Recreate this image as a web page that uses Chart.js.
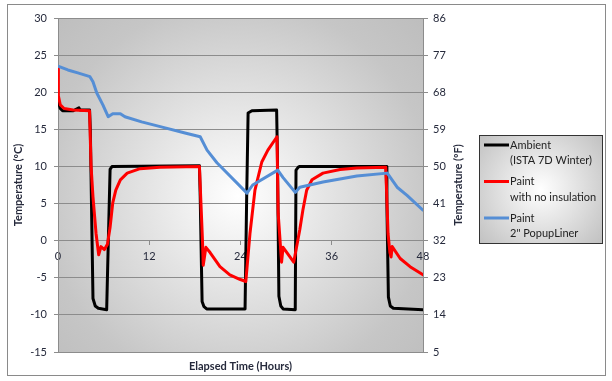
<!DOCTYPE html>
<html>
<head>
<meta charset="utf-8">
<script src="https://cdn.jsdelivr.net/npm/chart.js@4"></script>
<style>
html, body { margin: 0; padding: 0; background: #fff; }
</style>
</head>
<body>
<canvas id="myChart" width="612" height="381"></canvas>
<script>
// readings, hours vs degrees C
const ambientHours = [0, 0.3, 0.6, 2.0, 2.75, 2.9, 4.15, 4.25, 4.6, 4.9, 5.3, 6.4, 6.5, 6.85, 7.1, 18.6, 18.7, 18.95, 19.2, 19.55, 24.6, 24.8, 25.0, 25.5, 28.75, 28.85, 29.05, 29.3, 29.6, 31.2, 31.3, 31.6, 31.8, 43.15, 43.25, 43.45, 43.7, 44.1, 48];
const ambientTemp = [18.9, 17.8, 17.5, 17.5, 17.9, 17.6, 17.6, 15.0, -7.8, -8.8, -9.1, -9.3, -5.0, 9.6, 10.0, 10.1, 6.0, -8.2, -8.9, -9.2, -9.2, 5.0, 17.2, 17.5, 17.6, 12.0, -7.5, -8.8, -9.2, -9.3, 9.5, 9.9, 10.0, 10.0, 5.0, -7.6, -8.8, -9.1, -9.3];

const paintHours = [0, 0.05, 0.3, 0.8, 2.0, 4.15, 4.35, 4.6, 5.0, 5.35, 5.65, 6.1, 6.5, 6.85, 7.2, 7.6, 8.2, 9.1, 10.8, 13.4, 18.6, 18.8, 19.0, 19.1, 19.45, 20.0, 21.3, 22.6, 23.9, 24.7, 25.25, 25.9, 26.8, 27.6, 28.8, 28.95, 29.4, 29.6, 30.1, 31.0, 31.8, 32.2, 32.7, 33.4, 34.85, 37.1, 39.3, 43.1, 43.4, 43.65, 43.8, 43.95, 45.0, 46.3, 48];
const paintTemp = [23.3, 19.5, 18.3, 17.8, 17.6, 17.5, 10.0, 5.9, 1.0, -1.9, -0.8, -1.2, -0.5, 1.8, 5.1, 6.8, 8.2, 9.1, 9.7, 9.9, 10.0, 5.0, 0.0, -3.3, -0.9, -1.6, -3.5, -4.6, -5.2, -5.5, 1.0, 6.8, 10.6, 12.2, 14.0, 3.7, -2.9, -0.9, -1.6, -2.9, 1.5, 4.1, 6.8, 8.2, 9.1, 9.6, 9.8, 9.9, 1.0, -1.6, -2.2, -0.8, -2.4, -3.5, -4.6];

const linerHours = [0, 1.3, 2.6, 4.2, 4.6, 5.1, 5.9, 6.6, 7.2, 8.2, 8.8, 11.0, 13.7, 16.7, 18.7, 19.6, 20.9, 24.85, 25.6, 28.9, 29.6, 31.2, 31.8, 34.85, 39.3, 43.3, 44.6, 45.9, 48];
const linerTemp = [23.5, 23.0, 22.6, 22.1, 21.4, 19.9, 18.3, 16.7, 17.1, 17.1, 16.7, 16.0, 15.3, 14.5, 14.0, 12.2, 10.5, 6.4, 7.5, 9.5, 8.5, 6.5, 7.2, 7.9, 8.7, 9.1, 7.2, 6.1, 4.1];

const legendLines = [
    ["Ambient", "(ISTA 7D Winter)"],
    ["Paint", "with no insulation"],
    ["Paint", "2\" PopupLiner"]
];

const FONT = "Lato, 'Open Sans', sans-serif";
const TEXT = "#262a3c";
const GRID = "#8c8c8c";

const pairs = (xs, ys) => xs.map((x, i) => ({ x: x, y: ys[i] }));

const backgroundPlugin = {
    id: "background",
    beforeDraw(chart) {
        const c = chart.ctx;
        const a = chart.chartArea;
        c.save();
        c.fillStyle = "#ffffff";
        c.fillRect(0, 0, chart.width, chart.height);

        const g = c.createRadialGradient(238, 196, 0, 238, 196, 260);
        g.addColorStop(0, "#ffffff");
        g.addColorStop(0.35, "#e4e4e4");
        g.addColorStop(0.75, "#c6c6c6");
        g.addColorStop(1, "#bdbdbd");
        c.fillStyle = g;
        c.fillRect(a.left, a.top, a.right - a.left, a.bottom - a.top);

        c.strokeStyle = "#8a8a8a";
        c.lineWidth = 1;
        c.strokeRect(7.5, 4.5, 598, 371);
        c.restore();
    },
    afterDraw(chart) {
        const c = chart.ctx;
        const a = chart.chartArea;
        c.save();
        // right axis title, reads bottom to top
        c.translate(458, (a.top + a.bottom) / 2);
        c.rotate(-Math.PI / 2);
        c.fillStyle = TEXT;
        c.font = "bold 11px " + FONT;
        c.textAlign = "center";
        c.textBaseline = "middle";
        c.fillText("Temperature (ºF)", 0, 0);
        c.restore();
    }
};

const legendPlugin = {
    id: "boxLegend",
    afterDraw(chart) {
        const c = chart.ctx;
        const x = 479, y = 135, w = 123, h = 108;
        c.save();
        const g = c.createRadialGradient(x + w / 2, y + h / 2, 0, x + w / 2, y + h / 2, 80);
        g.addColorStop(0, "#ffffff");
        g.addColorStop(1, "#c2c2c2");
        c.fillStyle = g;
        c.fillRect(x, y, w, h);
        c.strokeStyle = "#333333";
        c.lineWidth = 1;
        c.strokeRect(x + 0.5, y + 0.5, w, h);

        c.font = "11px " + FONT;
        c.textBaseline = "middle";
        chart.data.datasets.forEach((ds, i) => {
            const ly = 145 + i * 36.5;
            c.strokeStyle = ds.borderColor;
            c.lineWidth = 3;
            c.beginPath();
            c.moveTo(484, ly);
            c.lineTo(509, ly);
            c.stroke();
            c.fillStyle = "#222222";
            legendLines[i].forEach((t, j) => c.fillText(t, 510, ly + j * 15.5));
        });
        c.restore();
    }
};

const ctx = document.getElementById("myChart").getContext("2d");

new Chart(ctx, {
    type: "line",
    data: {
        datasets: [
            {
                label: legendLines[0].join(" "),
                data: pairs(ambientHours, ambientTemp),
                borderColor: "#000000",
                xAxisID: "x",
                yAxisID: "y",
                order: 3
            },
            {
                label: legendLines[1].join(" "),
                data: pairs(paintHours, paintTemp),
                borderColor: "#ff0000",
                xAxisID: "x",
                yAxisID: "y",
                order: 2
            },
            {
                label: legendLines[2].join(" "),
                data: pairs(linerHours, linerTemp),
                borderColor: "#558ed5",
                xAxisID: "x",
                yAxisID: "y",
                order: 1
            }
        ]
    },
    options: {
        responsive: false,
        animation: false,
        layout: { padding: { top: 18, left: 0, right: 0, bottom: 0 } },
        elements: {
            point: { radius: 0 },
            line: { borderWidth: 3, tension: 0, borderJoinStyle: "round", borderCapStyle: "round" }
        },
        plugins: {
            legend: { display: false },
            tooltip: { enabled: false }
        },
        scales: {
            x: {
                type: "linear",
                position: { y: 0 },
                min: 0,
                max: 48,
                ticks: { stepSize: 12, padding: 5, color: TEXT, font: { family: FONT, size: 11 }, maxRotation: 0 },
                grid: { drawOnChartArea: false, tickLength: 4, color: GRID },
                border: { color: GRID }
            },
            xTitle: {
                type: "linear",
                axis: "x",
                position: "bottom",
                min: 0,
                max: 48,
                ticks: { display: false },
                grid: { display: false },
                border: { display: false },
                title: {
                    display: true,
                    text: "Elapsed Time (Hours)",
                    color: TEXT,
                    font: { family: FONT, size: 11, weight: "bold" },
                    padding: { top: 8, bottom: 8 }
                },
                afterFit: (s) => { s.height = 29; }
            },
            y: {
                position: "left",
                min: -15,
                max: 30,
                ticks: { stepSize: 5, padding: 7, color: TEXT, font: { family: FONT, size: 11 } },
                grid: { color: GRID, tickLength: 4 },
                border: { color: GRID },
                title: {
                    display: true,
                    text: "Temperature (ºC)",
                    color: TEXT,
                    font: { family: FONT, size: 11, weight: "bold" },
                    padding: { top: 12, bottom: 4 }
                },
                afterFit: (s) => { s.width = 58; }
            },
            y2: {
                position: "right",
                min: 5,
                max: 86,
                ticks: { stepSize: 9, padding: 5, color: TEXT, font: { family: FONT, size: 11 } },
                grid: { drawOnChartArea: false, tickLength: 5, color: GRID },
                border: { color: GRID },
                afterFit: (s) => { s.width = 189; }
            }
        }
    },
    plugins: [backgroundPlugin, legendPlugin]
});
</script>
</body>
</html>
